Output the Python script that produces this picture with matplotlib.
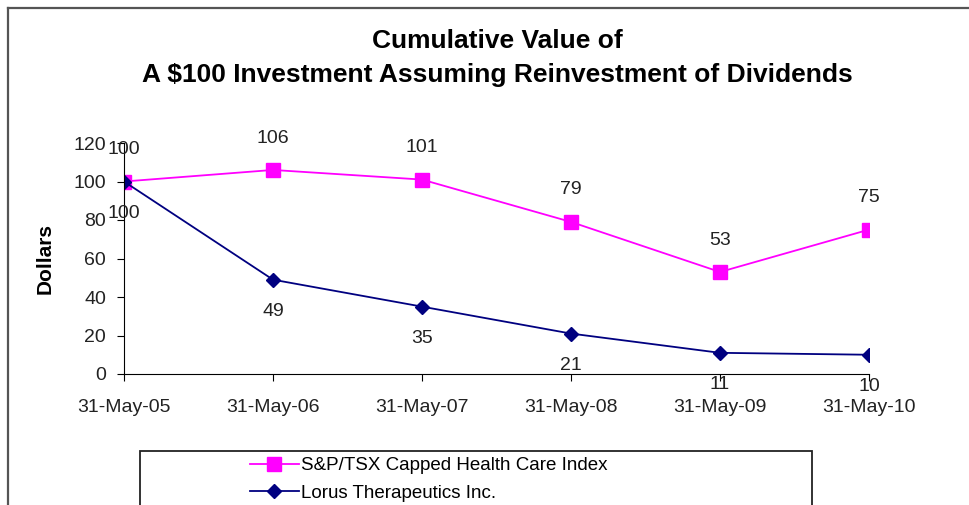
import matplotlib

matplotlib.use('Agg')
from matplotlib import pyplot as plt
from matplotlib.lines import Line2D
from matplotlib.patches import Rectangle

plt.rcParams['font.family'] = ['Liberation Sans', 'DejaVu Sans']

dates = ['31-May-05', '31-May-06', '31-May-07', '31-May-08', '31-May-09', '31-May-10']
sp_tsx = [100, 106, 101, 79, 53, 75]
lorus = [100, 49, 35, 21, 11, 10]
y_ticks = [0, 20, 40, 60, 80, 100, 120]

W, H = 969, 505
fig = plt.figure(figsize=(W / 100, H / 100), dpi=100)
ax = fig.add_axes([124 / W, 1 - 374 / H, (869 - 124) / W, (374 - 143) / H])

x = list(range(len(dates)))
ax.plot(x, sp_tsx, color='#FF00FF', lw=1.3, marker='s', markersize=10,
        label='S&P/TSX Capped Health Care Index')
ax.plot(x, lorus, color='#000080', lw=1.3, marker='D', markersize=7,
        label='Lorus Therapeutics Inc.')

for xi, v in zip(x, sp_tsx):
    ax.annotate(str(v), (xi, v), xytext=(0, 23), textcoords='offset points',
                ha='center', va='center', fontsize=14, color='#222222',
                annotation_clip=False)
for xi, v in zip(x, lorus):
    ax.annotate(str(v), (xi, v), xytext=(0, -23), textcoords='offset points',
                ha='center', va='center', fontsize=14, color='#222222',
                annotation_clip=False)

ax.set_xlim(0, len(dates) - 1)
ax.set_ylim(0, 120)
ax.set_xticks(x)
ax.set_xticklabels(dates)
ax.set_yticks(y_ticks)
ax.tick_params(axis='x', direction='out', length=5, pad=13, labelsize=14,
               labelcolor='#222222')
ax.tick_params(axis='y', direction='out', length=5, pad=8, labelsize=14,
               labelcolor='#222222')
ax.spines['top'].set_visible(False)
ax.spines['right'].set_visible(False)
ax.set_ylabel('Dollars', fontsize=15, fontweight='bold')
ax.yaxis.set_label_coords((55 - 124) / 745, 0.5)

fig.text(497 / W, 1 - 41 / H, 'Cumulative Value of', ha='center', va='center',
         fontsize=19, fontweight='bold')
fig.text(497 / W, 1 - 75 / H, 'A $100 Investment Assuming Reinvestment of Dividends',
         ha='center', va='center', fontsize=19, fontweight='bold')

# outer chart frame (only top and left edges visible)
fig.add_artist(Line2D([8 / W, 8 / W], [0, 1 - 8 / H], transform=fig.transFigure,
                      color='#555555', lw=1.6))
fig.add_artist(Line2D([8 / W, 1], [1 - 8 / H, 1 - 8 / H], transform=fig.transFigure,
                      color='#555555', lw=1.6))

# legend box
fig.add_artist(Rectangle((140 / W, -0.05), (812 - 140) / W, 0.05 + 1 - 451 / H,
                         transform=fig.transFigure, fill=False, edgecolor='#222222', lw=1.3))
fig.legend(loc='upper left', bbox_to_anchor=(250 / W, 1 - 457 / H), frameon=False,
           fontsize=13.5, handlelength=2.6, handletextpad=0.1, labelspacing=0.55,
           borderpad=0, borderaxespad=0)

fig.savefig('out.png', dpi=100)
